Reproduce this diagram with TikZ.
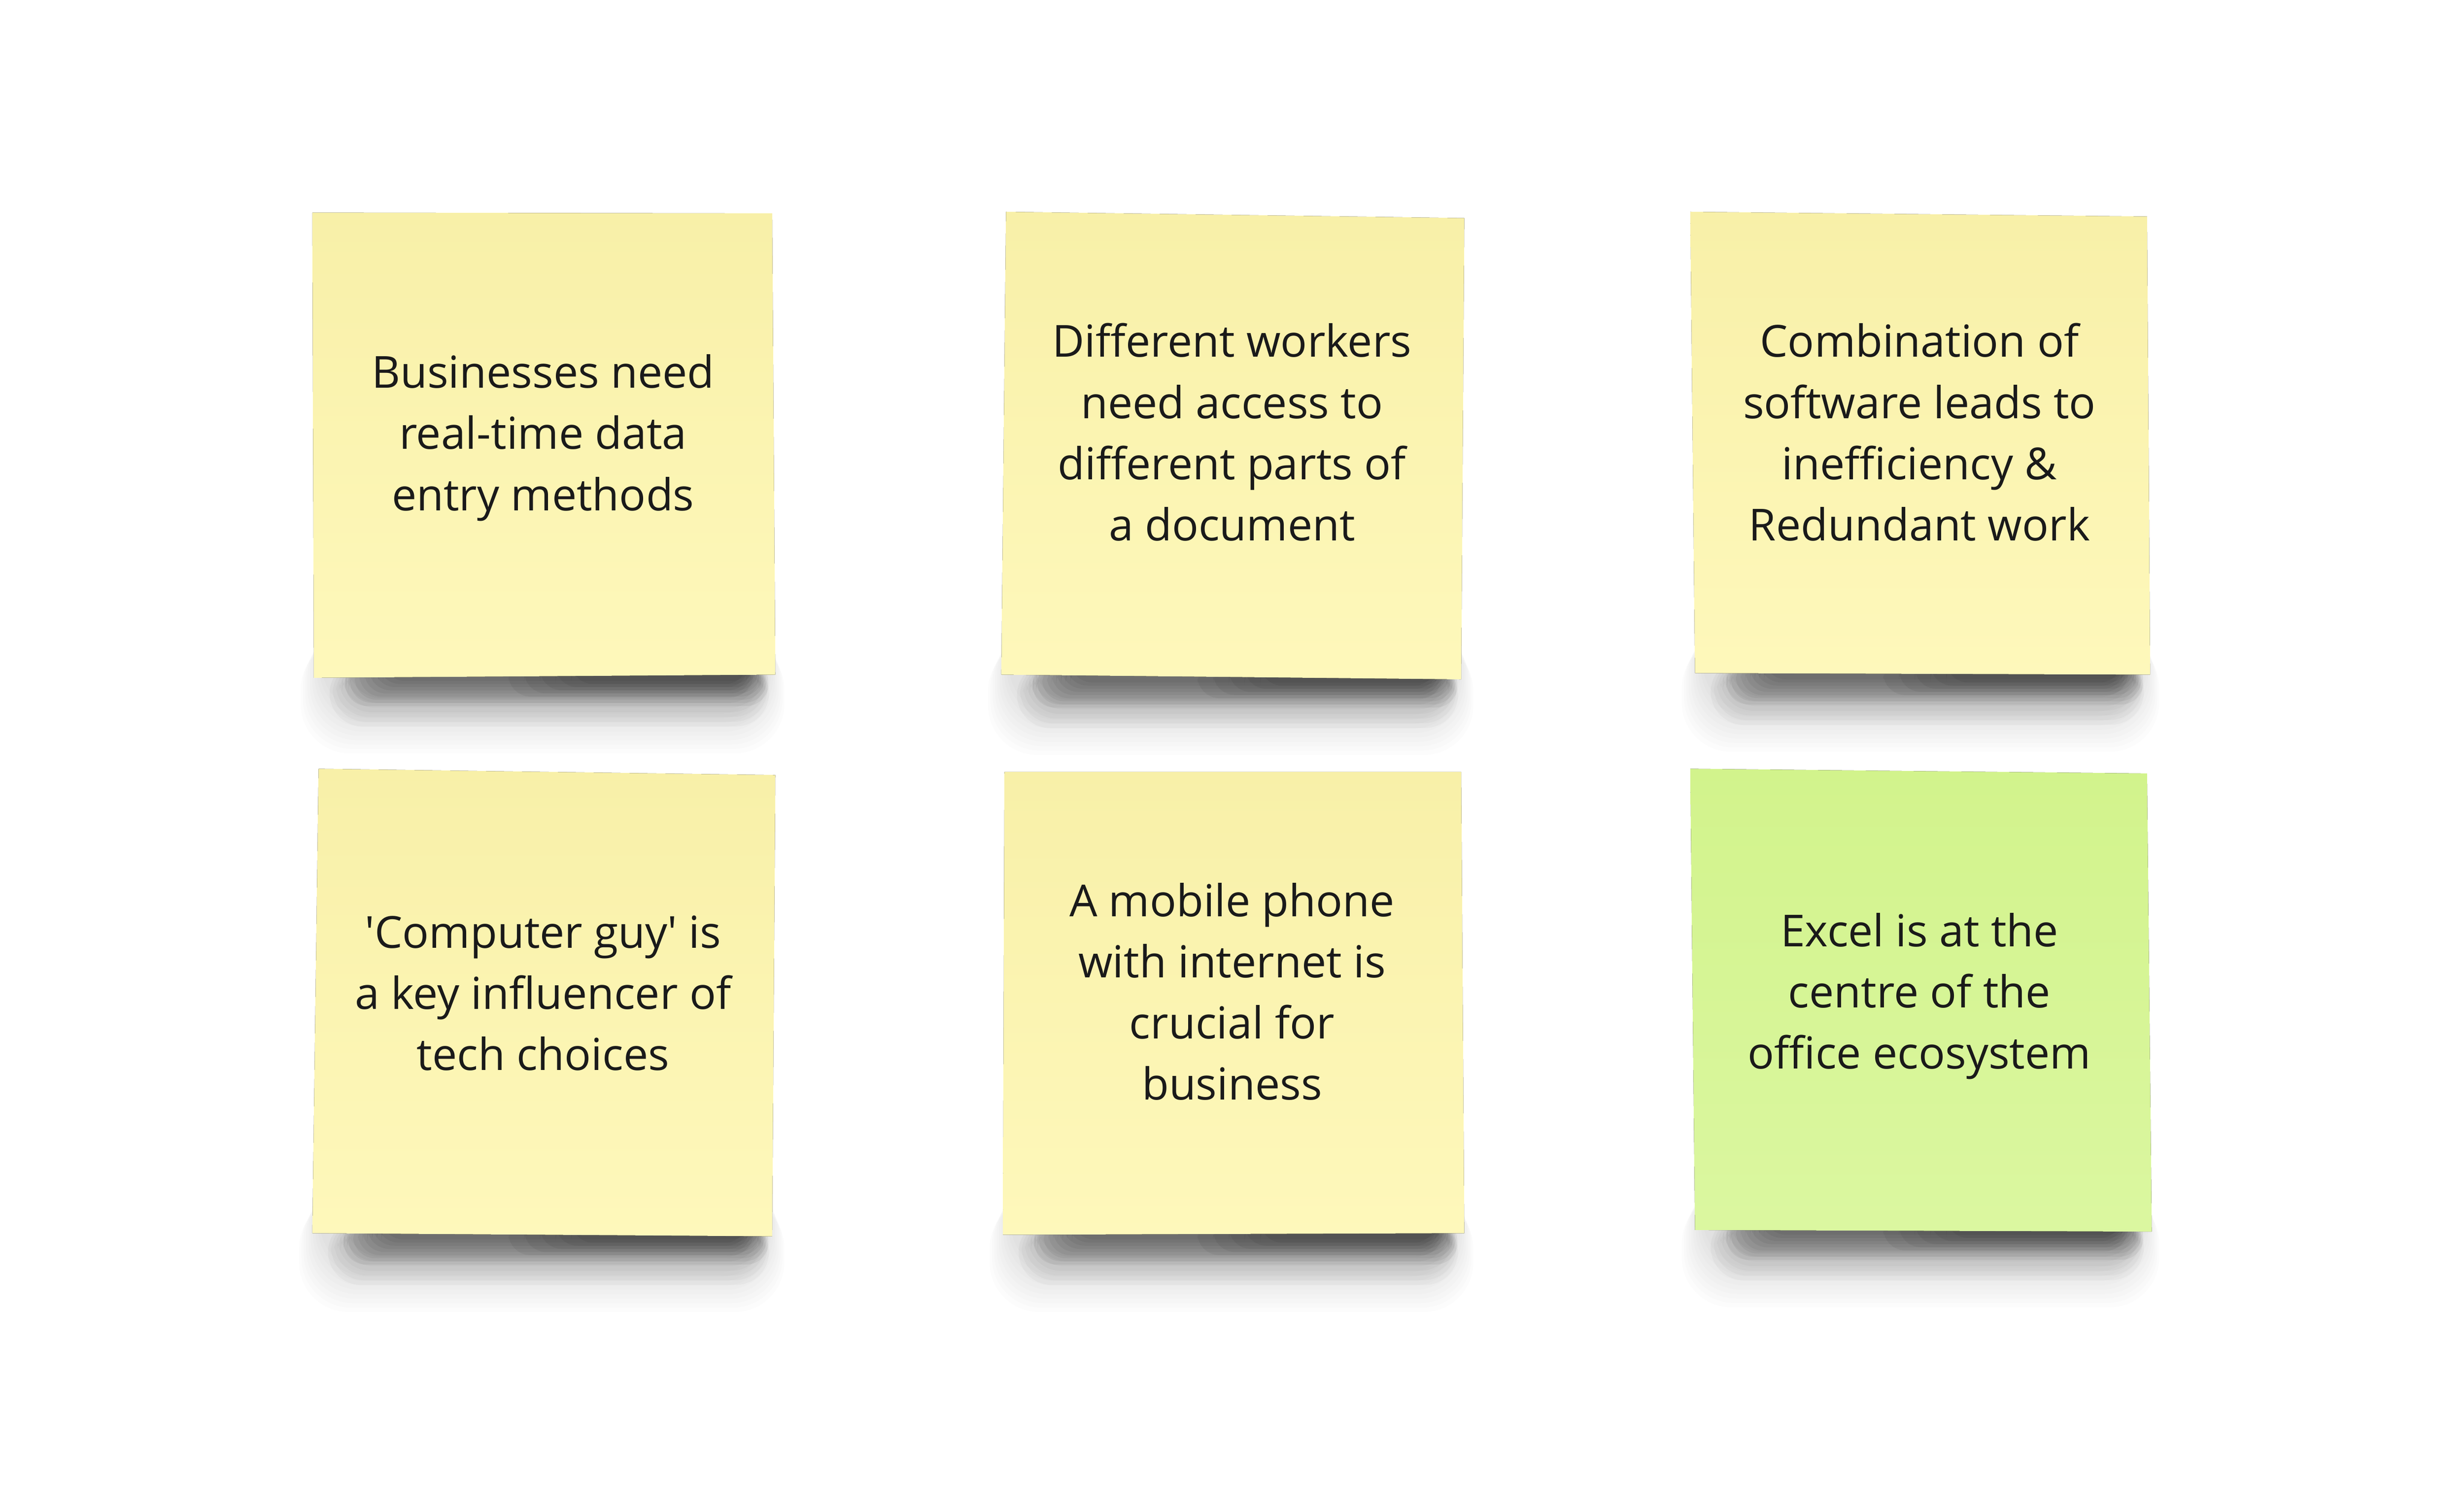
\documentclass[tikz,border=0pt]{standalone}
\usepackage{fontspec}
\setmainfont{Open Sans}
\usepackage{xcolor}
\usepackage{tikz}
\usetikzlibrary{positioning}

\definecolor{noteyellow}{HTML}{FDF7B4}
\definecolor{noteyellowtop}{HTML}{F8F0A8}
\definecolor{noteyellowbot}{HTML}{FEF8BB}
\definecolor{notegreen}{HTML}{D7F594}
\definecolor{notegreentop}{HTML}{D2F38C}
\definecolor{notegreenbot}{HTML}{DBF7A0}
\definecolor{inktext}{HTML}{1A1A1A}

\begin{document}
\begin{tikzpicture}[
        x=0.1mm, y=-0.1mm,
        yellownote/.style={top color=noteyellowtop, middle color=noteyellow, bottom color=noteyellowbot},
        greennote/.style={top color=notegreentop, middle color=notegreen, bottom color=notegreenbot},
        txt/.style={align=center, inner sep=0pt, text=inktext, font=\fontsize{8}{11.1}\selectfont},
        shadowcore/.style={fill=black, opacity=0.05, rounded corners=4pt},
        shadowmid/.style={fill=black, opacity=0.028, rounded corners=6pt},
        shadowhalo/.style={fill=black, opacity=0.011, rounded corners=9pt}
    ]
        \fill[white] (0,0) rectangle (1570,957.7);
        \useasboundingbox (0,0) rectangle (1570,957.7);

        % Shadows
        \foreach \l/\r/\b in {200/494/431, 638/933/432, 1080/1370/430, 199/494/787, 639/933/787, 1080/1370/784}{
            \foreach \k in {0,...,9}{
                \fill[shadowhalo] (\l+5-\k*1.5, \b-50+\k*3) rectangle (\r-5+\k*1.2, \b+24+\k*2.8);
            }
            \foreach \k in {0,...,6}{
                \fill[shadowmid] (\l+22-\k*2, \b-10) rectangle (\r-10+\k, \b+14+\k*3);
            }
            \foreach \k in {0,...,8}{
                \fill[shadowcore] (\l+44-\k*3, \b-10) rectangle (\r-14+\k*1.2, \b+3+\k*2);
            }
            \foreach \k in {0,...,4}{
                \fill[shadowcore] (\r-130-\k*10, \b-10) rectangle (\r-18+\k, \b+5+\k*2);
            }
        }

        % Notes
        \fill[yellownote] (199,135.5) -- (492,136) -- (494,430) -- (200,432) -- cycle;
        \fill[yellownote] (641,135) -- (933,139) -- (931,433) -- (638,430) -- cycle;
        \fill[yellownote] (1077,135) -- (1368,138) -- (1370,430) -- (1080,429) -- cycle;
        \fill[yellownote] (203,490) -- (494,494) -- (492,788) -- (199,786) -- cycle;
        \fill[yellownote] (640,492) -- (931,492) -- (933,786) -- (639,787) -- cycle;
        \fill[greennote] (1077,490) -- (1368,493) -- (1371,785) -- (1080,784) -- cycle;

        % Texts
        \node[txt] (busi) at (346,279) {Businesses need\\real-time data\\entry methods};
        \node[txt] (workers) at (785,275.5) {Different workers\\need access to\\different parts of\\a document};
        \node[txt] (combo) at (1223,275.5) {Combination of\\software leads to\\inefficiency \&\\Redundant work};
        \node[txt] (guy) at (346,633) {\textquotesingle Computer guy\textquotesingle\ is\\a key influencer of\\tech choices};
        \node[txt] (mobile) at (785,632) {A mobile phone\\with internet is\\crucial for\\business};
        \node[txt] (excel) at (1223,635) {Excel is at the\\centre of the\\office ecosystem};
    \end{tikzpicture}
\end{document}
